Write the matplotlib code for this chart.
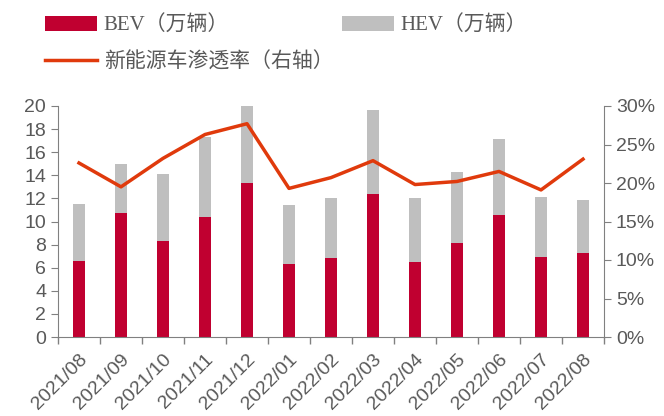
import numpy as np
import matplotlib.pyplot as plt
from matplotlib.ticker import FuncFormatter, MultipleLocator

months = ['2021/08', '2021/09', '2021/10', '2021/11', '2021/12', '2022/01', '2022/02',
          '2022/03', '2022/04', '2022/05', '2022/06', '2022/07', '2022/08']
bev = [6.6, 10.7, 8.3, 10.4, 13.3, 6.35, 6.85, 12.4, 6.5, 8.1, 10.6, 6.95, 7.25]
total = [11.5, 14.95, 14.1, 17.3, 20.0, 11.4, 12.0, 19.65, 12.0, 14.25, 17.1, 12.15, 11.9]
hev = [t - b for t, b in zip(total, bev)]
penetration = [22.6, 19.5, 23.2, 26.3, 27.7, 19.3, 20.7, 22.9, 19.8, 20.2, 21.5, 19.1, 23.1]

GRAY = '#808080'
TXT = '#595959'
fam = ['Liberation Sans', 'Noto Sans CJK SC']
legfam = ['Liberation Serif', 'Noto Sans CJK SC']

fig = plt.figure(figsize=(6.64, 4.16), dpi=100)
ax = fig.add_axes([58/664, 1-337/416, 546/664, 231/416])
x = np.arange(len(months))

b1 = ax.bar(x, bev, width=0.3, color='#C00030', label='BEV（万辆）')
b2 = ax.bar(x, hev, width=0.3, bottom=bev, color='#BFBFBF', label='HEV（万辆）')
ax.set_xlim(-0.5, len(months) - 0.5)
ax.set_ylim(0, 20)
ax.yaxis.set_major_locator(MultipleLocator(2))

ax2 = ax.twinx()
l1, = ax2.plot(x, penetration, color='#E03A0C', lw=2.5, label='新能源车渗透率（右轴）')
ax2.set_ylim(0, 30)
ax2.yaxis.set_major_locator(MultipleLocator(5))
ax2.yaxis.set_major_formatter(FuncFormatter(lambda v, p: f'{v:.0f}%'))

ax.set_xticks(x)
ax.set_xticklabels(months, rotation=45, ha='right', rotation_mode='anchor',
                   family=fam, fontsize=14, color=TXT)
ax.set_xticks(np.arange(-0.5, len(months)), minor=True)
ax.tick_params(axis='x', which='major', length=0, pad=10)
ax.tick_params(axis='x', which='minor', length=5, color=GRAY, width=1)
ax.tick_params(axis='y', length=5, color=GRAY, labelsize=14, labelcolor=TXT)
ax2.tick_params(axis='y', length=5, color=GRAY, labelsize=14, labelcolor=TXT)
for a in (ax, ax2):
    a.spines['top'].set_visible(False)
    for s in ('left', 'right', 'bottom'):
        a.spines[s].set_color(GRAY)
    for lab in a.get_yticklabels():
        lab.set_family(fam)
ax2.spines['left'].set_visible(False)
ax.spines['right'].set_visible(False)
ax2.spines['bottom'].set_visible(False)

leg = fig.legend([b1, l1, b2], ['BEV（万辆）', '新能源车渗透率（右轴）', 'HEV（万辆）'],
                 ncol=2, loc='upper left', bbox_to_anchor=(0.04, 1.008),
                 frameon=False, handlelength=2.5, handleheight=0.75, handletextpad=0.3,
                 columnspacing=0.4, labelspacing=0.8,
                 prop={'family': legfam, 'size': 15})
for t in leg.get_texts():
    t.set_color(TXT)

fig.savefig('out.png', dpi=100)
